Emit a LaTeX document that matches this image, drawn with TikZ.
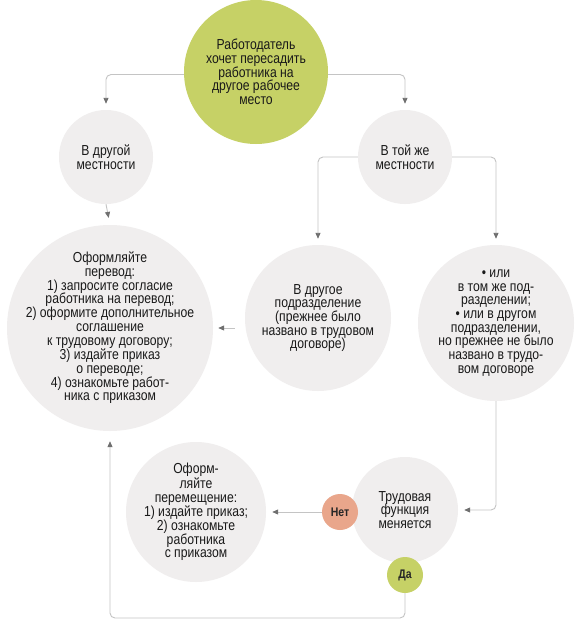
\documentclass[tikz,border=0pt]{standalone}
\usepackage{fontspec}
\setmainfont{Liberation Sans}[FakeStretch=0.84]
\usetikzlibrary{arrows.meta}
\definecolor{cgreen}{HTML}{C6D166}
\definecolor{cgray}{HTML}{F0EEEE}
\definecolor{csalmon}{HTML}{E9A68B}
\definecolor{cline}{HTML}{C4C4C4}
\definecolor{ctip}{HTML}{707070}
\tikzset{
  bubble/.style={circle, fill=cgray, draw=none, inner sep=0pt},
  greenbubble/.style={bubble, fill=cgreen},
  txt/.style={inner sep=0pt, align=center,
    font=\fontsize{14.5}{13.7}\selectfont, text=black!90},
  tag/.style={circle, inner sep=0pt, minimum size=36pt,
    font=\bfseries\fontsize{12.5}{12}\selectfont, text=black!85},
  conn/.style={draw=cline, line width=0.9pt, rounded corners=5pt,
    -{Triangle[width=5pt,length=6pt,color=ctip]}, shorten >=6pt},
}
\begin{document}
\begin{tikzpicture}[x=1pt,y=-1pt]
\useasboundingbox[fill=white] (0,0) rectangle (580,622);
\node[greenbubble, minimum size=144pt] (top) at (256,72) {};
\node[txt] (toptxt) at (top) {Работодатель\\хочет пересадить\\работника на\\другое рабочее\\место};
\node[bubble, minimum size=94pt] (other) at (106,157) {};
\node[txt] (othertxt) at (other) {В другой\\местности};
\node[bubble, minimum size=94pt] (same) at (405,157) {};
\node[txt] (sametxt) at (same) {В той же\\местности};
\node[bubble, minimum size=206pt] (perevod) at (110,328) {};
\node[txt] (perevodtxt) at (perevod)
  {Оформляйте\\перевод:\\1) запросите согласие\\работника на перевод;\\2) оформите дополнительное\\соглашение\\к трудовому договору;\\3) издайте приказ\\о переводе;\\4) ознакомьте работ-\\ника с приказом};
\node[bubble, minimum size=146pt] (div) at (318,318) {};
\node[txt] (divtxt) at (div)
  {В другое\\подразделение\\(прежнее было\\названо в трудовом\\договоре)};
\node[bubble, minimum size=156pt] (right) at (496,323) {};
\node[txt] (righttxt) at (right)
  {• или\\в том же под-\\разделении;\\• или в другом\\подразделении,\\но прежнее не было\\названо в трудо-\\вом договоре};
\node[bubble, minimum size=106pt] (func) at (405,510) {};
\node[txt] (functxt) at (func) {Трудовая\\функция\\меняется};
\node[bubble, minimum size=140pt] (move) at (196,512) {};
\node[txt] (movetxt) at (move)
  {Оформ-\\ляйте\\перемещение:\\1) издайте приказ;\\2) ознакомьте\\работника\\с приказом};
\node[tag, fill=csalmon] (net) at (340,512) {Нет};
\node[tag, fill=cgreen] (da) at (405,575) {Да};
\coordinate (lowleft) at (110,618);

\draw[conn] (top.182) -| (other.north);
\draw[conn] (top.-2) -| (same.north);
\draw[conn, shorten >=7pt] (other.south) -- (perevod.north);
\draw[conn] (same.west) -| (div.north);
\draw[conn] (same.east) -| (right.north);
\draw[conn, shorten <=10pt, shorten >=5pt] (perevod.east -| div.west) -- (perevod.east);
\draw[conn] (right.south) |- (func.east);
\draw[conn] (net.west) -- (move.east);
\draw[conn, shorten >=10pt] (da.south) |- (lowleft) -- (perevod.south);
\end{tikzpicture}
\end{document}
